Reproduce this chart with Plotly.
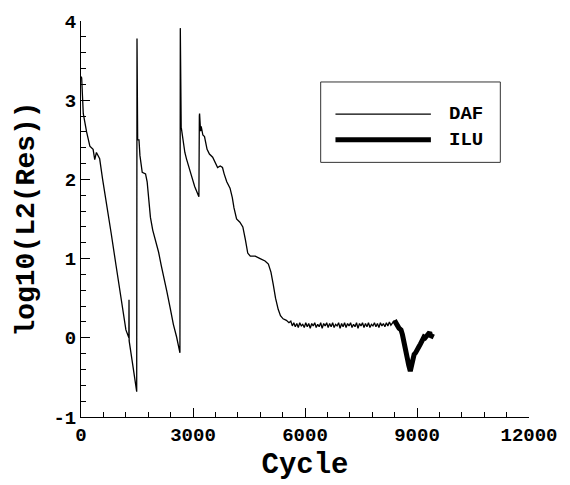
import plotly.graph_objects as go

# ---- data ----
daf_x = [0, 18, 40, 61, 150, 237, 324, 368, 413, 500, 579, 676, 808, 940, 1071, 1203, 1282, 1286, 1290,
         1376, 1440, 1492,
         1500, 1506, 1510, 1513, 1518, 1553, 1579, 1640, 1729, 1772, 1816, 1860, 1921, 2009, 2079, 2150,
         2211, 2298, 2387, 2474, 2561, 2650,
         2660, 2668, 2676, 2684, 2690, 2737, 2782, 2825, 2895, 2956, 3045, 3114, 3158,
         3170, 3176, 3203, 3220, 3264, 3308, 3377, 3440, 3527, 3588, 3659, 3729, 3790, 3834, 3904, 3992,
         4053, 4098, 4167, 4256, 4335, 4403, 4466, 4535, 4667, 4798, 4930, 5019, 5088, 5150, 5211, 5282,
         5343, 5413, 5501, 5570, 5620,
         5660, 5700, 5740, 5780, 5820, 5860, 5900, 5940, 5980, 6020, 6060, 6100, 6140, 6180, 6220, 6260,
         6300, 6340, 6380, 6420, 6460, 6500, 6540, 6580, 6620, 6660, 6700, 6740, 6780, 6820, 6860, 6900,
         6940, 6980, 7020, 7060, 7100, 7140, 7180, 7220, 7260, 7300, 7340, 7380, 7420, 7460, 7500, 7540,
         7580, 7620, 7660, 7700, 7740, 7780, 7820, 7860, 7900, 7940, 7980, 8020, 8060, 8100, 8140, 8180,
         8220, 8260, 8300, 8340, 8396]
daf_y = [3.30, 3.28, 3.05, 2.83, 2.60, 2.42, 2.38, 2.25, 2.34, 2.26, 2.00, 1.73, 1.32, 0.91, 0.50, 0.10, 0.00, 0.48, -0.04,
         -0.31, -0.50, -0.68,
         3.78, 2.87, 2.50, 2.85, 2.50, 2.50, 2.30, 2.09, 2.07, 1.97, 1.69, 1.52, 1.36, 1.20, 1.08, 0.91,
         0.79, 0.59, 0.38, 0.17, 0.01, -0.19,
         3.91, 2.70, 3.91, 2.64, 2.64, 2.46, 2.34, 2.26, 2.13, 2.05, 1.91, 1.83, 1.78,
         2.80, 2.83, 2.61, 2.67, 2.56, 2.54, 2.38, 2.32, 2.28, 2.22, 2.15, 2.17, 2.15, 2.07, 1.97, 1.89,
         1.77, 1.64, 1.50, 1.46, 1.40, 1.24, 1.07, 1.03, 1.03, 1.00, 0.97, 0.93, 0.83, 0.67, 0.50, 0.36,
         0.28, 0.24, 0.22, 0.19, 0.21,
         0.15, 0.19, 0.14, 0.18, 0.13, 0.19, 0.15, 0.17, 0.13, 0.19, 0.14, 0.18, 0.12, 0.18, 0.15, 0.19,
         0.13, 0.17, 0.14, 0.19, 0.12, 0.18, 0.15, 0.19, 0.13, 0.18, 0.14, 0.19, 0.13, 0.17, 0.15, 0.19,
         0.12, 0.18, 0.14, 0.19, 0.13, 0.18, 0.15, 0.19, 0.13, 0.17, 0.14, 0.19, 0.12, 0.18, 0.15, 0.19,
         0.13, 0.18, 0.14, 0.19, 0.13, 0.17, 0.15, 0.19, 0.14, 0.18, 0.13, 0.19, 0.15, 0.18, 0.14, 0.19,
         0.15, 0.20, 0.16, 0.19, 0.22]

ilu_x = [8396, 8430, 8470, 8520, 8572, 8610, 8640, 8680, 8704, 8730, 8750, 8775, 8791, 8805, 8820, 8840,
         8860, 8890, 8923, 8960, 8990, 9020, 9054, 9090, 9120, 9150, 9186, 9220, 9250, 9290, 9317, 9340,
         9360, 9400, 9449]
ilu_y = [0.22, 0.20, 0.16, 0.12, 0.10, 0.04, -0.02, -0.08, -0.15, -0.22, -0.28, -0.34, -0.39, -0.36, -0.42, -0.38,
         -0.33, -0.27, -0.21, -0.19, -0.15, -0.13, -0.11, -0.08, -0.05, -0.03, 0.01, 0.00, 0.02, 0.03, 0.04, 0.07,
         0.03, 0.02, 0.01]

x_ticks = [0, 3000, 6000, 9000, 12000]
y_ticks = [-1, 0, 1, 2, 3, 4]
series_names = ["DAF", "ILU"]

FONT = "Liberation Mono, Courier New, monospace"

fig = go.Figure()
fig.add_trace(go.Scatter(x=daf_x, y=daf_y, mode="lines", name=series_names[0],
                         line=dict(color="black", width=1.3), showlegend=False))
fig.add_trace(go.Scatter(x=ilu_x, y=ilu_y, mode="lines", name=series_names[1],
                         line=dict(color="black", width=5), showlegend=False))

# legend drawn as a box with sample lines
fig.add_shape(type="rect", xref="paper", yref="paper", x0=0.535, x1=0.936, y0=0.643, y1=0.846,
              line=dict(color="#333333", width=1), fillcolor="white", layer="below")
fig.add_shape(type="line", xref="paper", yref="paper", x0=0.568, x1=0.781, y0=0.765, y1=0.765,
              line=dict(color="black", width=1.3))
fig.add_shape(type="line", xref="paper", yref="paper", x0=0.568, x1=0.781, y0=0.700, y1=0.700,
              line=dict(color="black", width=5))
for name, yy in zip(series_names, [0.765, 0.700]):
    fig.add_annotation(text=f"<b>{name}</b>", xref="paper", yref="paper", x=0.818, y=yy,
                       xanchor="left", yanchor="middle", showarrow=False,
                       font=dict(family=FONT, size=19, color="black"))

axis_common = dict(showgrid=False, zeroline=False, showline=True, linecolor="black", linewidth=1,
                   ticks="inside", ticklen=9, tickwidth=1, tickcolor="black",
                   tickfont=dict(family=FONT, size=19, color="black", weight="bold"), mirror=False)

fig.update_xaxes(range=[0, 12000], tickvals=x_ticks, ticktext=[str(v) for v in x_ticks],
                 minor=dict(dtick=600, ticks="inside", ticklen=5, tickcolor="black", tickwidth=1),
                 title=dict(text="<b>Cycle</b>", font=dict(family=FONT, size=29, color="black"), standoff=6),
                 **axis_common)
fig.update_yaxes(range=[-1, 4], tickvals=y_ticks, ticktext=[str(v) for v in y_ticks],
                 minor=dict(dtick=0.2, ticks="inside", ticklen=5, tickcolor="black", tickwidth=1),
                 title=dict(text="<b>log10(L2(Res))</b>", font=dict(family=FONT, size=28, color="black"), standoff=10),
                 **axis_common)

fig.update_layout(width=570, height=485, margin=dict(l=81, r=33, t=14, b=62),
                  paper_bgcolor="white", plot_bgcolor="white")

fig.write_html("out.html")
